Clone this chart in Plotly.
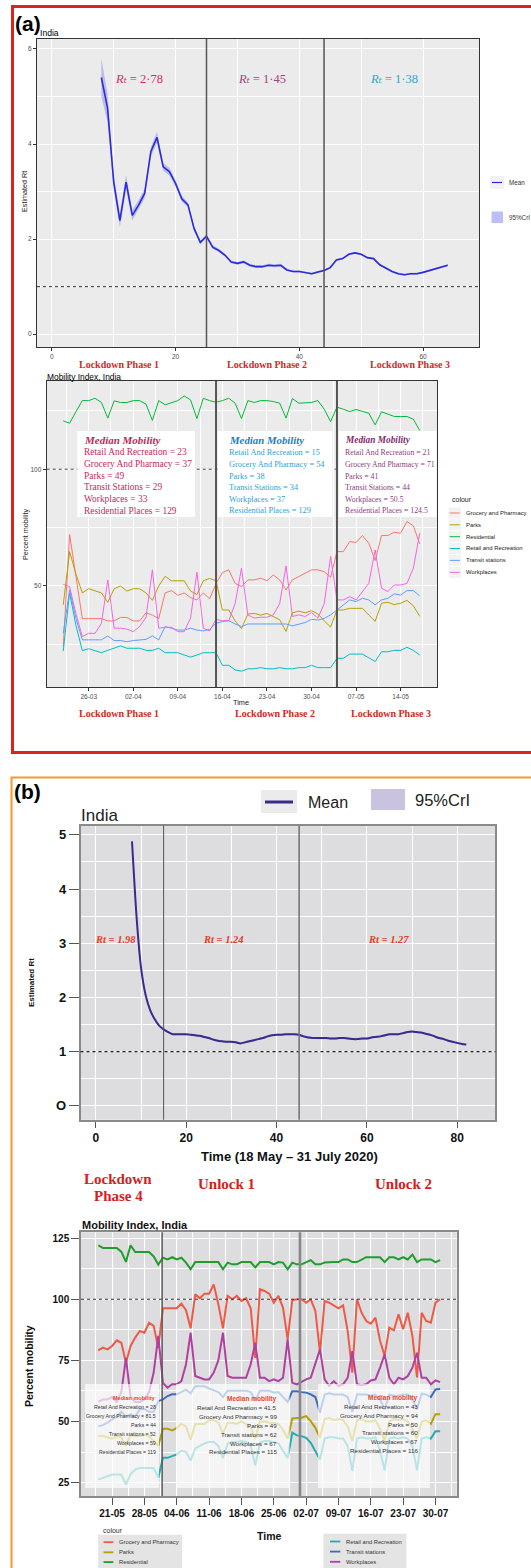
import plotly.graph_objects as go
import pandas as pd

W, H = 531, 1568
def fx(p): return p / W
def fy(p): return 1 - p / H

SANS = "Liberation Sans, Arial, sans-serif"
SERIF = "Liberation Serif, DejaVu Serif, Times New Roman, serif"

# ======================= DATA =======================
# ---- Panel (a): estimated Rt (day index) ----
rt_a_day = list(range(8, 65))
rt_a_mean = [5.40, 4.76, 3.20, 2.39, 3.20, 2.50, 2.71, 2.96, 3.84, 4.14,
             3.52, 3.42, 3.17, 2.85, 2.72, 2.22, 1.93, 2.06, 1.83, 1.76,
             1.66, 1.52, 1.49, 1.52, 1.45, 1.42, 1.42, 1.45, 1.44, 1.45,
             1.35, 1.32, 1.32, 1.30, 1.27, 1.31, 1.34, 1.40, 1.56, 1.59,
             1.68, 1.71, 1.68, 1.61, 1.59, 1.46, 1.39, 1.32, 1.27, 1.25,
             1.27, 1.27, 1.30, 1.34, 1.38, 1.41, 1.45]
rt_a_ci_half = [0.40, 0.30, 0.16, 0.14, 0.15, 0.11, 0.10, 0.10, 0.10, 0.12,
                0.08, 0.08, 0.07, 0.06, 0.05, 0.05, 0.04, 0.04, 0.04, 0.03,
                0.03, 0.03, 0.03, 0.03, 0.03, 0.03, 0.03, 0.03, 0.03, 0.03,
                0.02, 0.02, 0.02, 0.02, 0.02, 0.02, 0.02, 0.02, 0.02, 0.02,
                0.02, 0.02, 0.02, 0.02, 0.02, 0.02, 0.02, 0.02, 0.02, 0.02,
                0.02, 0.02, 0.02, 0.02, 0.02, 0.02, 0.02]
rt_a_breaks = [25, 44]
rt_a_phase_rt = ["2·78", "1·45", "1·38"]

# ---- Panel (a): mobility index ----
mob_a_dates = pd.date_range("2020-03-22", periods=57, freq="D")
mob_a_breaks = ["2020-04-15", "2020-05-04"]
grocery_a = [24, 72, 54, 36, 36, 36, 36, 35, 35, 36.5, 36.5, 35, 35, 38.5, 37.5, 36, 47, 48, 46, 47,
             45, 44, 47, 44.5, 51, 55.7, 56.9, 51.1, 49.7, 52.6, 52.6, 53.3, 52.3, 54.7, 52.6, 48.3,
             52.6, 54, 55.4, 56.9, 56.9, 56.1, 53.7, 64.7, 64.7, 69, 68.6, 71.6, 68.3, 60.9, 71.6,
             71.6, 73, 72.6, 77.6, 75.7, 68]
parks_a = [41.9, 64.7, 55, 47, 48.8, 48, 47, 43, 48.8, 50, 47.8, 48.8, 48.8, 47, 43.8, 50, 54.1,
           52.2, 52.2, 52.2, 47.8, 46.3, 52.2, 53.2, 52.2, 39.7, 39.7, 35, 31.7, 38, 38.2, 37.5,
           38.2, 37, 35.5, 30.5, 38.5, 39.2, 38.5, 39.4, 38, 35, 32.4, 39.7, 39.7, 40.4, 40.4, 40.4,
           37.5, 34.8, 42.6, 43, 42, 42.6, 43.8, 41.5, 37]
residential_a = [120.7, 119.7, 124.7, 129.4, 129.4, 130.4, 128.6, 121.9, 129.3, 128.6,
                 128.6, 129.4, 129.4, 127.9, 120.9, 129.4, 127.6, 128.6, 129.4, 131.4,
                 129.7, 121.7, 130.4, 129.4, 128.7, 129.4, 130.4, 128.3, 121.7, 129.4,
                 128.6, 129.4, 129.4, 129, 128.3, 121.9, 130.3, 128.3, 128.6, 128.6,
                 129.4, 125.7, 120.4, 126.6, 125.7, 124.7, 125.6, 124.7, 124, 119,
                 124.6, 123.6, 122.6, 122.6, 122.6, 121.4, 116.6]
retail_a = [22.1, 47, 33, 22.3, 23.1, 22.4, 21.4, 22.4, 23.3, 24.3, 23.3, 23.3, 23.3, 22.4, 22.4,
            23.3, 21.4, 21.4, 21.4, 20.4, 19.5, 20.4, 21.4, 21.4, 21.4, 16, 16, 14, 13.5, 14.5,
            14.5, 15, 14.5, 14.5, 15, 14.5, 14.5, 15, 15, 16, 15, 15, 15, 19, 19, 20.8, 20.8, 20.8,
            19.2, 17.6, 21.8, 21.8, 22.4, 22.4, 23.7, 22.4, 20.4]
transit_a = [29.7, 48.3, 36, 26.9, 26.9, 26.9, 26.9, 28.6, 26.6, 26.6, 26.1, 26.6, 26.9, 27.1,
             28.6, 26.9, 32.6, 31.9, 31.1, 31.1, 31.9, 31.1, 30.7, 31.4, 34, 34.7, 35.1, 33.7,
             32.6, 33.7, 33.7, 33.7, 33.7, 33.7, 33.7, 33.7, 32.9, 33.7, 34.3, 35.7, 35.4, 36.1,
             37.6, 39.7, 41.9, 44, 43.3, 44.7, 44, 41.9, 44, 44.7, 46.6, 46.1, 48, 48, 45.7]
workplaces_a = [50.7, 49.7, 38, 28.3, 29.7, 29.7, 34, 52.6, 31.9, 31.9, 31.5, 30.4, 32.6, 36.5,
                56.9, 31.9, 32.3, 32.3, 30.4, 30.4, 36.3, 55.9, 31.9, 30.7, 35.7, 35.1, 35.1, 42.4,
                57.6, 37.6, 36.2, 36.6, 36.6, 37.6, 42.4, 58.6, 36.9, 37.6, 36.9, 38.6, 36.2, 42.4,
                62.6, 44, 44, 45.4, 44, 47.6, 51.1, 65.4, 49, 47.6, 50.4, 50.4, 51.1, 57.6, 72.6]
mob_a_names = ["Grocery and Pharmacy", "Parks", "Residential", "Retail and Recreation",
               "Transit stations", "Workplaces"]
mob_a_median_text = [
    ["Retail And Recreation = 23", "Grocery And Pharmacy = 37", "Parks = 49",
     "Transit Stations = 29", "Workplaces = 33", "Residential Places = 129"],
    ["Retail And Recreation = 15", "Grocery And Pharmacy = 54", "Parks = 38",
     "Transit Stations = 34", "Workplaces = 37", "Residential Places = 129"],
    ["Retail And Recreation = 21", "Grocery And Pharmacy = 71", "Parks = 41",
     "Transit Stations = 44", "Workplaces = 50.5", "Residential Places = 124.5"],
]

# ---- Panel (b): estimated Rt ----
rt_b_day = list(range(8, 83))
rt_b_mean = [4.88, 3.50, 2.55, 2.05, 1.77, 1.60, 1.48, 1.41, 1.36, 1.32,
             1.32, 1.32, 1.32, 1.31, 1.30, 1.29, 1.27, 1.25, 1.22, 1.20,
             1.19, 1.18, 1.18, 1.17, 1.15, 1.17, 1.19, 1.21, 1.23, 1.25,
             1.28, 1.30, 1.31, 1.31, 1.32, 1.32, 1.32, 1.31, 1.28, 1.26,
             1.25, 1.25, 1.25, 1.25, 1.24, 1.24, 1.25, 1.25, 1.24, 1.23,
             1.23, 1.24, 1.24, 1.26, 1.27, 1.28, 1.30, 1.32, 1.32, 1.32,
             1.34, 1.36, 1.37, 1.36, 1.35, 1.33, 1.31, 1.28, 1.25, 1.23,
             1.20, 1.18, 1.16, 1.14, 1.13]
rt_b_ci_half = [0.08, 0.06, 0.05, 0.04, 0.03, 0.03, 0.02, 0.02, 0.02, 0.02,
                0.02, 0.02, 0.02, 0.02, 0.02, 0.02, 0.02, 0.02, 0.02, 0.02,
                0.02, 0.02, 0.02, 0.02, 0.02, 0.02, 0.02, 0.02, 0.02, 0.02,
                0.02, 0.02, 0.02, 0.02, 0.02, 0.02, 0.02, 0.02, 0.02, 0.02,
                0.02, 0.02, 0.02, 0.02, 0.02, 0.02, 0.02, 0.02, 0.02, 0.02,
                0.02, 0.02, 0.02, 0.02, 0.02, 0.02, 0.02, 0.02, 0.02, 0.02,
                0.02, 0.02, 0.02, 0.02, 0.02, 0.02, 0.02, 0.02, 0.02, 0.02,
                0.02, 0.02, 0.02, 0.02, 0.02]
rt_b_breaks = [15, 45]
rt_b_phase_rt = ["1.98", "1.24", "1.27"]

# ---- Panel (b): mobility index ----
mob_b_dates = pd.date_range("2020-05-18", periods=75, freq="D")
mob_b_breaks = ["2020-05-31 20:00", "2020-06-30 16:00"]
grocery_b = [79.1, 80.2, 79.5, 80.9, 83.2, 82.2, 74, 80.9, 84.3, 87,
             86.3, 90.4, 89.1, 80, 96.3, 96.3, 96.3, 96.3, 98.2, 95.5,
             88.1, 102, 100.4, 102.3, 102.3, 106.1, 98, 88.1, 101.4, 100,
             101.4, 99.3, 100.4, 96.3, 76, 104.1, 103.4, 102.3, 98.6, 101.4,
             96.5, 83.6, 99.6, 100, 100, 98.6, 100, 95.2, 78.1, 99.3,
             98.6, 97.5, 96.3, 97.5, 87, 70, 100, 94.5, 91.1, 90,
             92.5, 83, 76.8, 88.4, 87.3, 93.9, 87.7, 94.5, 85, 68,
             94.5, 91.1, 90.4, 98.6, 100]
parks_b = [44, 44, 43.5, 43, 44, 43.5, 40, 44.5, 44, 44,
           44.5, 44, 42, 40, 47, 47, 46.3, 47.4, 49, 48,
           42.5, 49, 49, 49, 50.5, 50.5, 49.5, 45, 49.5, 49.5,
           49, 50, 49, 47.5, 43, 50, 50, 49.5, 49.5, 49,
           46.5, 43, 51.2, 51.5, 51.5, 52.2, 50.1, 47.4, 43.3, 51,
           51.5, 50.5, 51, 50.5, 48, 42, 50.5, 51, 50, 50,
           50.5, 47, 42, 50, 51, 50.5, 51, 50, 47, 43,
           50, 50.5, 49, 53, 53]
residential_b = [122.1, 121, 121, 121, 121, 119.5, 115.3, 122.1, 119.3, 119.3,
                 119.3, 119.3, 117.5, 114.2, 117, 116.3, 117.2, 116.3, 117, 115,
                 112.3, 115.2, 115.2, 115.2, 115.2, 115.2, 115.2, 112.3, 115, 114.3,
                 114.3, 115.2, 115.2, 115.2, 113, 115.2, 115.2, 115.2, 114.3, 115.2,
                 115, 112.3, 115, 114.3, 114.3, 115.2, 116, 114.3, 114.3, 115,
                 115.2, 115.2, 115.2, 116.3, 116.3, 115.2, 115.2, 116.3, 117.2, 117.2,
                 117.2, 117.2, 115.2, 117.2, 117.2, 116.3, 117.2, 116.3, 118.3, 115.2,
                 116.3, 116.3, 116.3, 115.2, 116]
retail_b = [26.2, 27, 27.5, 28.3, 28.3, 28.3, 24.2, 28.5, 30.3, 31,
            31, 31, 31, 27, 35.1, 35.1, 35.8, 36.5, 38, 37.6,
            34, 39, 40, 41, 41.6, 41.6, 40, 35, 41, 41.6,
            41.6, 42, 41.6, 40, 32, 41.5, 42, 42, 41.5, 41,
            38, 35, 45.4, 44.3, 44, 43.3, 41.3, 38, 34.4, 43,
            43.5, 43.5, 43, 43, 40, 29.8, 43, 43.5, 43, 43,
            43.5, 38, 30, 43, 43.5, 43, 43.5, 43, 40, 30,
            43, 43.5, 43, 46, 46]
transit_b = [48, 48.5, 49.5, 50.8, 52, 54, 52, 53, 52, 55,
             55, 54, 54, 58.3, 59, 60.4, 61.1, 61.1, 62, 63,
             61.5, 64.4, 64.4, 64.4, 63.5, 62.6, 62, 60, 62.6, 62.6,
             62.6, 62.6, 62.6, 62, 58.4, 62.6, 62.6, 62.6, 61.8, 62,
             60, 58, 62.4, 62.4, 62, 61.8, 61.1, 60, 53.6, 61,
             61.5, 61, 61, 61, 60, 54, 61, 61, 61, 60.5,
             61, 59, 55, 61, 60.5, 60.5, 61, 61, 59, 55,
             61.5, 61, 60, 63.1, 63.3]
workplaces_b = [58, 59, 59, 60, 58, 62, 76, 60, 58, 58,
                59, 62, 70, 85, 65.8, 63.8, 65.2, 65.2, 66.5, 73.4,
                86.3, 68.6, 67.9, 67.2, 67.2, 70, 75, 86.3, 68.6, 67.9,
                67.9, 67.9, 67.9, 73.4, 82.2, 67.9, 67.9, 66.5, 67.2, 66.5,
                67.9, 83.6, 65.8, 65.2, 66.3, 67.2, 67.9, 73.4, 79.5, 67.2,
                64.5, 66.5, 64.5, 65.2, 67.9, 78.8, 65.2, 64.8, 65.2, 66.8,
                67.2, 72, 77.5, 67.9, 65.2, 67.9, 67.2, 68.6, 72, 78.1,
                67.9, 67.9, 65.2, 66.8, 66.1]
mob_b_median_text = [
    ["Retail And Recreation = 28", "Grocery And Pharmacy = 81.5", "Parks = 44",
     "Transit stations = 52", "Workplaces = 59", "Residential Places = 119"],
    ["Retail And Recreation = 41.5", "Grocery And Pharmacy = 99", "Parks = 49",
     "Transit stations = 62", "Workplaces = 67", "Residential Places = 115"],
    ["Retail And Recreation = 43", "Grocery And Pharmacy = 94", "Parks = 50",
     "Transit stations = 60", "Workplaces = 67", "Residential Places = 116"],
]

# ======================= FIGURE =======================
fig = go.Figure()

col_a = ["#F8766D", "#B79F00", "#00BA38", "#00BFC4", "#619CFF", "#F564E3"]
col_b = ["#ee5a46", "#b3a200", "#1f9e2c", "#27abb0", "#3b6cc2", "#b0409f"]

# plot 1
up = [m + h for m, h in zip(rt_a_mean, rt_a_ci_half)]
lo = [m - h for m, h in zip(rt_a_mean, rt_a_ci_half)]
fig.add_trace(go.Scatter(x=rt_a_day + rt_a_day[::-1], y=up + lo[::-1], fill="toself",
                         fillcolor="rgba(110,110,235,0.38)", line=dict(width=0),
                         hoverinfo="skip", showlegend=False, xaxis="x", yaxis="y"))
fig.add_trace(go.Scatter(x=rt_a_day, y=rt_a_mean, mode="lines", line=dict(color="#2b2bdc", width=1.6),
                         showlegend=False, xaxis="x", yaxis="y"))

# plot 2
for vals, c in zip([grocery_a, parks_a, residential_a, retail_a, transit_a, workplaces_a], col_a):
    fig.add_trace(go.Scatter(x=mob_a_dates, y=vals, mode="lines", line=dict(color=c, width=1),
                             showlegend=False, xaxis="x2", yaxis="y2"))

# plot 3
upb = [m + h for m, h in zip(rt_b_mean, rt_b_ci_half)]
lob = [m - h for m, h in zip(rt_b_mean, rt_b_ci_half)]
fig.add_trace(go.Scatter(x=rt_b_day + rt_b_day[::-1], y=upb + lob[::-1], fill="toself",
                         fillcolor="rgba(175,165,215,0.6)", line=dict(width=0),
                         hoverinfo="skip", showlegend=False, xaxis="x3", yaxis="y3"))
fig.add_trace(go.Scatter(x=rt_b_day, y=rt_b_mean, mode="lines",
                         line=dict(color="#3b2a8c", width=2, shape="spline", smoothing=0.6),
                         showlegend=False, xaxis="x3", yaxis="y3"))

# plot 4
for vals, c in zip([grocery_b, parks_b, residential_b, retail_b, transit_b, workplaces_b], col_b):
    fig.add_trace(go.Scatter(x=mob_b_dates, y=vals, mode="lines", line=dict(color=c, width=2),
                             showlegend=False, xaxis="x4", yaxis="y4"))

# ---------------- axes ----------------
def ax_a(**kw):
    d = dict(showline=True, mirror=True, linecolor="#333333", linewidth=1.2, ticks="outside",
             ticklen=3, tickcolor="#333333", tickfont=dict(family=SANS, size=6.5, color="#4d4d4d"),
             showgrid=True, gridcolor="white", gridwidth=1, zeroline=False)
    d.update(kw)
    return d

def ax_b(**kw):
    d = dict(showline=True, mirror=True, linecolor="#8a8a8a", linewidth=1.5, ticks="outside",
             tickcolor="#555555", tickwidth=1.2, showgrid=True, gridcolor="white", gridwidth=1.2,
             zeroline=False)
    d.update(kw)
    return d

WEEK = 7 * 24 * 3600 * 1000
HALFWEEK = WEEK / 2

fig.update_layout(
    width=W, height=H, margin=dict(l=0, r=0, t=0, b=0), autosize=False,
    paper_bgcolor="white", plot_bgcolor="rgba(0,0,0,0)", showlegend=False,
    xaxis=ax_a(domain=[fx(37), fx(479)], anchor="y", range=[-2.4, 69.05],
               tickvals=[0, 20, 40, 60],
               minor=dict(tickvals=[10, 30, 50, 70], showgrid=True, gridcolor="white", gridwidth=0.5)),
    yaxis=ax_a(domain=[fy(347), fy(39)], anchor="x", range=[-0.27, 6.21],
               tickvals=[0, 2, 4, 6],
               minor=dict(tickvals=[1, 3, 5], showgrid=True, gridcolor="white", gridwidth=0.5)),
    xaxis2=ax_a(domain=[fx(46.7), fx(437.3)], anchor="y2", type="date",
                range=["2020-03-19 09:38", "2020-05-19 18:14"],
                tick0="2020-03-26", dtick=WEEK, tickformat="%d-%m",
                tickfont=dict(family=SANS, size=6.5, color="#4d4d4d"),
                minor=dict(dtick=HALFWEEK, tick0="2020-03-26", showgrid=True, gridcolor="white", gridwidth=0.5)),
    yaxis2=ax_a(domain=[fy(687), fy(381)], anchor="x2", range=[6.7, 137.8],
                tickvals=[50, 100],
                minor=dict(tickvals=[25, 75, 125], showgrid=True, gridcolor="white", gridwidth=0.5)),
    xaxis3=ax_b(domain=[fx(80.5), fx(495.4)], anchor="y3", range=[-3.4, 88.45],
                tickvals=[0, 20, 40, 60, 80], ticklen=6,
                tickfont=dict(family=SANS, size=12, color="#111111", weight="bold"),
                minor=dict(tickvals=[10, 30, 50, 70], showgrid=True, gridcolor="white", gridwidth=1.2)),
    yaxis3=ax_b(domain=[fy(1119.8), fy(825.7)], anchor="x3", range=[-0.26, 5.17],
                tickvals=[0, 1, 2, 3, 4, 5], ticktext=["O", "1", "2", "3", "4", "5"], ticklen=10,
                tickfont=dict(family=SANS, size=13, color="#111111", weight="bold"),
                minor=dict(tickvals=[0.5, 1.5, 2.5, 3.5, 4.5], showgrid=True, gridcolor="white", gridwidth=0.8)),
    xaxis4=ax_b(domain=[fx(81), fx(456.7)], anchor="y4", type="date",
                range=["2020-05-14 06:30", "2020-08-03 14:10"],
                tick0="2020-05-21", dtick=WEEK, tickformat="%d-%m", ticklen=7,
                tickfont=dict(family=SANS, size=10, color="#111111", weight="bold"),
                minor=dict(dtick=HALFWEEK, tick0="2020-05-21", showgrid=True, gridcolor="white", gridwidth=0.8)),
    yaxis4=ax_b(domain=[fy(1496), fy(1232.3)], anchor="x4", range=[19.5, 127.4],
                tickvals=[25, 50, 75, 100, 125], ticklen=8,
                tickfont=dict(family=SANS, size=10, color="#111111", weight="bold"),
                minor=dict(tickvals=[37.5, 62.5, 87.5, 112.5], showgrid=True, gridcolor="white", gridwidth=0.8)),
)

shapes = []
# subplot backgrounds
for xr, yr, col in [("x", "y", "#ebebeb"), ("x2", "y2", "#ebebeb"),
                    ("x3", "y3", "#dddde0"), ("x4", "y4", "#dddde0")]:
    shapes.append(dict(type="rect", xref=xr + " domain", yref=yr + " domain", x0=0, x1=1, y0=0, y1=1,
                       fillcolor=col, line=dict(width=0), layer="below"))

# dotted reference lines
shapes.append(dict(type="line", xref="x domain", yref="y", x0=0, x1=1, y0=1, y1=1,
                   line=dict(color="#333333", width=1, dash="dot"), layer="above"))
shapes.append(dict(type="line", xref="x2 domain", yref="y2", x0=0, x1=1, y0=100, y1=100,
                   line=dict(color="#444444", width=1, dash="dot"), layer="above"))
shapes.append(dict(type="line", xref="x3 domain", yref="y3", x0=0, x1=1, y0=1, y1=1,
                   line=dict(color="#222222", width=1.2, dash="dot"), layer="above"))
shapes.append(dict(type="line", xref="x4 domain", yref="y4", x0=0, x1=1, y0=100, y1=100,
                   line=dict(color="#333333", width=1, dash="dot"), layer="above"))

# phase boundaries
for b in rt_a_breaks:
    shapes.append(dict(type="line", xref="x", yref="y domain", x0=b, x1=b, y0=0, y1=1,
                       line=dict(color="#555555", width=1.5), layer="above"))
for b in mob_a_breaks:
    shapes.append(dict(type="line", xref="x2", yref="y2 domain", x0=b, x1=b, y0=0, y1=1,
                       line=dict(color="#555555", width=2), layer="above"))
for b, w, c in zip(rt_b_breaks, [1, 1.6], ["#555555", "#777777"]):
    shapes.append(dict(type="line", xref="x3", yref="y3 domain", x0=b, x1=b, y0=0, y1=1,
                       line=dict(color=c, width=w), layer="above"))
for b, w, c in zip(mob_b_breaks, [1.4, 2.6], ["#555555", "#888888"]):
    shapes.append(dict(type="line", xref="x4", yref="y4 domain", x0=b, x1=b, y0=0, y1=1,
                       line=dict(color=c, width=w), layer="above"))

def prect(x0, y0, x1, y1, fill, line=None, lw=0):
    return dict(type="rect", xref="paper", yref="paper", x0=fx(x0), x1=fx(x1), y0=fy(y1), y1=fy(y0),
                fillcolor=fill, line=dict(color=line or "rgba(0,0,0,0)", width=lw), layer="above")

# median boxes (a) - opaque white
for x0, x1 in [(77.3, 195), (217.7, 332.3), (339, 436.5)]:
    shapes.append(prect(x0, 431, x1, 517, "white"))
# median boxes (b) - translucent white
for x0, x1 in [(85, 159), (176, 289.5), (318, 430)]:
    shapes.append(prect(x0, 1384, x1, 1488, "rgba(255,255,255,0.68)"))

# legend keys (a) Rt
shapes.append(prect(490, 176, 504, 189, "#f2f2f2"))
shapes.append(dict(type="line", xref="paper", yref="paper", x0=fx(492), x1=fx(502), y0=fy(182.5), y1=fy(182.5),
                   line=dict(color="#2b2bdc", width=1.2), layer="above"))
shapes.append(prect(491.5, 211.5, 503, 223, "rgba(110,110,235,0.45)"))

# legend keys (a) mobility
leg_a_y = [513, 524.8, 536.7, 548.5, 560.4, 572.3]
for yy, c in zip(leg_a_y, col_a):
    shapes.append(prect(448.5, yy - 5.5, 461, yy + 5.5, "#f2f2f2"))
    shapes.append(dict(type="line", xref="paper", yref="paper", x0=fx(449.7), x1=fx(459.9), y0=fy(yy), y1=fy(yy),
                       line=dict(color=c, width=1), layer="above"))

# legend (b) Rt top
shapes.append(prect(261, 790, 297, 813, "#ebebeb"))
shapes.append(dict(type="line", xref="paper", yref="paper", x0=fx(265), x1=fx(293), y0=fy(802), y1=fy(802),
                   line=dict(color="#3b2a8c", width=3), layer="above"))
shapes.append(prect(371, 789, 405, 810, "#c9c3df"))

# legend (b) mobility bottom
shapes.append(prect(98.2, 1534.7, 182.2, 1575, "#e4e4e4"))
shapes.append(prect(323.4, 1533.7, 406.4, 1575, "#e4e4e4"))
leg_b_left_y = [1542.2, 1552.3, 1562.1]
leg_b_right_y = [1541.5, 1551.6, 1561.8]
for yy, c in zip(leg_b_left_y, col_b[:3]):
    shapes.append(dict(type="line", xref="paper", yref="paper", x0=fx(103.5), x1=fx(113.4), y0=fy(yy), y1=fy(yy),
                       line=dict(color=c, width=1.8), layer="above"))
for yy, c in zip(leg_b_right_y, col_b[3:]):
    shapes.append(dict(type="line", xref="paper", yref="paper", x0=fx(330), x1=fx(340.3), y0=fy(yy), y1=fy(yy),
                       line=dict(color=c, width=1.8), layer="above"))

# panel frames
shapes.append(dict(type="rect", xref="paper", yref="paper", x0=fx(12.5), x1=fx(560), y0=fy(752.5), y1=fy(6.5),
                   line=dict(color="#d9261c", width=3), fillcolor="rgba(0,0,0,0)", layer="above"))
shapes.append(dict(type="rect", xref="paper", yref="paper", x0=fx(11.5), x1=fx(560), y0=fy(1600), y1=fy(777.5),
                   line=dict(color="#f39a2e", width=2), fillcolor="rgba(0,0,0,0)", layer="above"))

fig.update_layout(shapes=shapes)

# ---------------- text ----------------
ann = []
def txt(x, y, s, size, color="#000000", family=SANS, xanchor="left", angle=0):
    ann.append(dict(xref="paper", yref="paper", x=fx(x), y=fy(y), text=s, showarrow=False,
                    xanchor=xanchor, yanchor="middle", textangle=angle,
                    font=dict(family=family, size=size, color=color)))

# panel (a)
txt(12.5, 24, "<b>(a)</b>", 21)
txt(37.5, 33, "India", 8.6)
for cx, val, c in zip([139, 262.4, 394], rt_a_phase_rt, ["#d3305e", "#a2457f", "#33a3d3"]):
    txt(cx, 79, "<i>R\u209c</i> = " + val, 12.5, c, SERIF, "center")
txt(24, 192, "Estimated Rt", 7.2, "#222222", SANS, "center", -90)
for cx, lab in zip([119, 267.4, 410], ["Lockdown Phase 1", "Lockdown Phase 2", "Lockdown Phase 3"]):
    txt(cx, 364.6, "<b>" + lab + "</b>", 10, "#d12a26", SERIF, "center")
txt(507, 182.5, "Mean", 6.3, "#333333")
txt(507, 217.5, "95%CrI", 6.3, "#333333")

txt(44.5, 376.5, "Mobility Index, India", 8.4)
txt(25, 534, "Percent mobility", 7.2, "#222222", SANS, "center", -90)
txt(241, 702, "Time", 7.3, "#222222", SANS, "center")
for cx, lab in zip([119.4, 274.5, 390.8], ["Lockdown Phase 1", "Lockdown Phase 2", "Lockdown Phase 3"]):
    txt(cx, 714, "<b>" + lab + "</b>", 10, "#d12a26", SERIF, "center")

box_a = [(81.7, "#c3275a", "#c8285a", 9.4, 11), (227.3, "#1c80c2", "#2f9fd2", 8.3, 10.8),
         (342.7, "#7d2d6c", "#8e3d7d", 7.8, 9.3)]
line_y_a = [452.2, 464, 476, 487.5, 499.3, 510.7]
for (x0, tcol, lcol, s, ts), lines in zip(box_a, mob_a_median_text):
    txt(x0, 439.8, "<b><i>Median Mobility</i></b>", ts, tcol, SERIF)
    for yy, l in zip(line_y_a, lines):
        txt(x0, yy, l, s, lcol, SERIF)

txt(449.5, 499.5, "colour", 7, "#222222")
for yy, n in zip(leg_a_y, mob_a_names):
    txt(464, yy, n, 5.9, "#222222")

# panel (b)
txt(11.5, 791, "<b>(b)</b>", 21)
txt(306, 802, "Mean", 16, "#222222")
txt(413, 800, "95%CrI", 16.5, "#222222")
txt(79, 815.5, "India", 17, "#222222")
for cx, val in zip([115, 223.3, 388.3], rt_b_phase_rt):
    txt(cx, 939.3, "<b><i>Rt = " + val + "</i></b>", 10.5, "#e0402a", SERIF, "center")
txt(31, 983, "<b>Estimated Rt</b>", 8, "#111111", SANS, "center", -90)
txt(289.5, 1156.4, "<b>Time (18 May – 31 July 2020)</b>", 13, "#111111", SANS, "center")
txt(118.2, 1178.8, "<b>Lockdown</b>", 15, "#d42020", SERIF, "center")
txt(118.2, 1195.7, "<b>Phase 4</b>", 15, "#d42020", SERIF, "center")
txt(226, 1184, "<b>Unlock 1</b>", 15, "#d42020", SERIF, "center")
txt(403.8, 1184, "<b>Unlock 2</b>", 15, "#d42020", SERIF, "center")

txt(79.5, 1224.5, "<b>Mobility Index, India</b>", 11, "#111111")
txt(29, 1366, "<b>Percent mobility</b>", 10.5, "#111111", SANS, "center", -90)
txt(269, 1535.7, "<b>Time</b>", 10.5, "#111111", SANS, "center")

box_b = [(157.5, 5.2, [1398.2, 1407, 1415.9, 1424.7, 1433.8, 1442.6, 1451.7]),
         (279.4, 6.2, [1399.3, 1407.7, 1416.9, 1425.3, 1434.1, 1443, 1451.7]),
         (420, 6.2, [1398.2, 1406.7, 1415.9, 1424.3, 1432.8, 1441.6, 1450.4])]
for (xr, s, ys), lines in zip(box_b, mob_b_median_text):
    txt(xr, ys[0], "<b>Median mobility</b>", s + 0.3, "#e8452c", SANS, "right")
    for yy, l in zip(ys[1:], lines):
        txt(xr, yy, l, s, "#333333", SANS, "right")

txt(100.5, 1530.7, "colour", 7, "#333333")
for yy, n in zip(leg_b_left_y, mob_a_names[:3]):
    txt(116.8, yy, n, 5.8, "#333333")
for yy, n in zip(leg_b_right_y, mob_a_names[3:]):
    txt(343.7, yy, n, 5.8, "#333333")

fig.update_layout(annotations=ann)
fig.write_html("out.html")
